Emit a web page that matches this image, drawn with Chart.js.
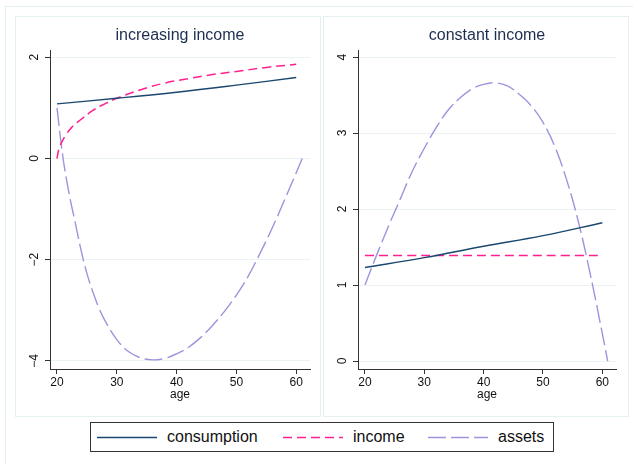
<!DOCTYPE html>
<html>
<head>
<meta charset="utf-8">
<script src="https://cdn.jsdelivr.net/npm/chart.js@4.4.1/dist/chart.umd.min.js"></script>
<style>
  body { margin: 0; width: 633px; height: 464px; background: #fff; position: relative; overflow: hidden;
         font-family: "Liberation Sans", Arial, sans-serif; }
  .frame { position: absolute; border: 1px solid #e6eff1; box-sizing: border-box; }
  canvas { position: absolute; }
  #legend { position: absolute; left: 90px; top: 422px; width: 464px; height: 30px; border: 1px solid #333;
            box-sizing: border-box; }
  .item { position: absolute; top: 0; height: 28px; line-height: 28px; font-size: 16px; color: #111; }
  .item svg { position: absolute; top: 13px; left: 0; }
  .item span { position: absolute; top: 0; white-space: nowrap; }
</style>
</head>
<body>
<div class="frame" style="left:5px; top:6px; width:640px; height:470px;"></div>
<div class="frame" style="left:15px; top:16px; width:306px; height:401px;"></div>
<div class="frame" style="left:323px; top:16px; width:306px; height:401px;"></div>
<canvas id="left" width="303" height="398" style="left:16px; top:17px;"></canvas>
<canvas id="right" width="303" height="398" style="left:324px; top:17px;"></canvas>

<div id="legend">
  <div class="item" style="left:6px;">
    <svg width="62" height="3"><line x1="0" y1="1.5" x2="60" y2="1.5" stroke="#1a476f" stroke-width="1.5"/></svg>
    <span style="left:70px;">consumption</span>
  </div>
  <div class="item" style="left:192px;">
    <svg width="62" height="3"><line x1="0" y1="1.5" x2="60" y2="1.5" stroke="#ff2090" stroke-width="1.5" stroke-dasharray="9 5"/></svg>
    <span style="left:70px;">income</span>
  </div>
  <div class="item" style="left:337px;">
    <svg width="62" height="3"><line x1="0" y1="1.5" x2="60" y2="1.5" stroke="#9a95dd" stroke-width="1.5" stroke-dasharray="18 5"/></svg>
    <span style="left:70px;">assets</span>
  </div>
</div>

<script>
// increasing income panel
const incConsAge = [20, 30, 40, 50, 60];
const incConsVal = [1.08, 1.19, 1.31, 1.45, 1.6];
const incIncAge = [20, 20.3, 20.7, 21.5, 22.5, 24, 26, 28, 30, 34, 38, 42, 46, 50, 55, 60];
const incIncVal = [0, 0.18, 0.3, 0.47, 0.62, 0.77, 0.95, 1.08, 1.19, 1.36, 1.49, 1.58, 1.66, 1.72, 1.8, 1.86];
const incAssAge = [20, 21, 22, 23, 24, 25, 26, 27, 28, 30, 32, 34, 36, 38, 40, 42, 44, 46, 48, 50, 52, 54, 56, 58, 60, 61];
const incAssVal = [1.0, 0.02, -0.68, -1.24, -1.8, -2.27, -2.64, -2.95, -3.2, -3.58, -3.82, -3.94, -3.98, -3.95, -3.86, -3.73, -3.54, -3.3, -3.02, -2.7, -2.32, -1.86, -1.37, -0.83, -0.28, 0];

// constant income panel
const conConsAge = [20, 30, 40, 50, 60];
const conConsVal = [1.23, 1.36, 1.51, 1.65, 1.82];
const conIncAge = [20, 60];
const conIncVal = [1.39, 1.39];
const conAssAge = [20, 22, 24, 26, 28, 30, 32, 34, 36, 38, 40, 42, 44, 46, 48, 50, 52, 54, 56, 58, 60, 60.9];
const conAssVal = [1.0, 1.4, 1.78, 2.14, 2.5, 2.8, 3.07, 3.3, 3.46, 3.58, 3.64, 3.66, 3.62, 3.51, 3.36, 3.14, 2.82, 2.38, 1.82, 1.13, 0.36, 0];

const xTicks = [20, 30, 40, 50, 60];
const incYTicks = [-4, -2, 0, 2];
const conYTicks = [0, 1, 2, 3, 4];

const pts = (xs, ys) => xs.map((x, i) => ({ x: x, y: ys[i] }));
const fontFam = "'Liberation Sans', Arial, sans-serif";

function makeChart(id, title, cons, inc, ass, yTicks, yMin, yMax, yPad, rightPad) {
  const ctx = document.getElementById(id).getContext("2d");
  return new Chart(ctx, {
    type: "line",
    data: {
      datasets: [
        { label: "consumption", data: cons, borderColor: "#1a476f", borderWidth: 1.4 },
        { label: "income", data: inc, borderColor: "#ff2090", borderWidth: 1.5, borderDash: [9, 5] },
        { label: "assets", data: ass, borderColor: "#9a95dd", borderWidth: 1.4, borderDash: [18, 5] },
      ],
    },
    options: {
      responsive: false,
      animation: false,
      layout: { padding: { left: 0, right: rightPad, top: 0, bottom: 0 } },
      elements: { point: { radius: 0 }, line: { tension: 0.4, fill: false } },
      plugins: {
        legend: { display: false },
        tooltip: { enabled: false },
        title: {
          display: true,
          text: title,
          color: "#1c2e50",
          fullSize: false,
          font: { family: fontFam, size: 16, weight: "normal" },
          padding: { top: 9.4, bottom: 4.6 },
        },
      },
      scales: {
        x: {
          type: "linear",
          min: 18.83,
          max: 62.3,
          afterBuildTicks: (axis) => { axis.ticks = xTicks.map((v) => ({ value: v })); },
          afterFit: (axis) => { axis.height = 46; },
          ticks: { color: "#111", font: { family: fontFam, size: 12 }, padding: 1, maxRotation: 0 },
          grid: { drawOnChartArea: false, tickLength: 5, tickColor: "#333" },
          border: { color: "#333", width: 1 },
          title: { display: true, text: "age", color: "#111", font: { family: fontFam, size: 12 }, padding: { top: 0, bottom: 12.8 } },
        },
        y: {
          min: yMin,
          max: yMax,
          afterBuildTicks: (axis) => { axis.ticks = yTicks.map((v) => ({ value: v })); },
          afterFit: (axis) => { axis.width = 34; },
          ticks: {
            color: "#111",
            font: { family: fontFam, size: 12 },
            padding: yPad,
            minRotation: 90,
            maxRotation: 90,
            crossAlign: "center",
            callback: (v) => (v < 0 ? "\u2212" + Math.abs(v) : String(v)),
          },
          grid: { color: "#eaf2f3", tickLength: 5, tickColor: "#333", lineWidth: 1 },
          border: { color: "#333", width: 1 },
        },
      },
    },
  });
}

makeChart("left", "increasing income",
  pts(incConsAge, incConsVal), pts(incIncAge, incIncVal), pts(incAssAge, incAssVal),
  incYTicks, -4.16, 2.14, 3.2, 9);

makeChart("right", "constant income",
  pts(conConsAge, conConsVal), pts(conIncAge, conIncVal), pts(conAssAge, conAssVal),
  conYTicks, -0.105, 4.09, 6.6, 11);
</script>
</body>
</html>
